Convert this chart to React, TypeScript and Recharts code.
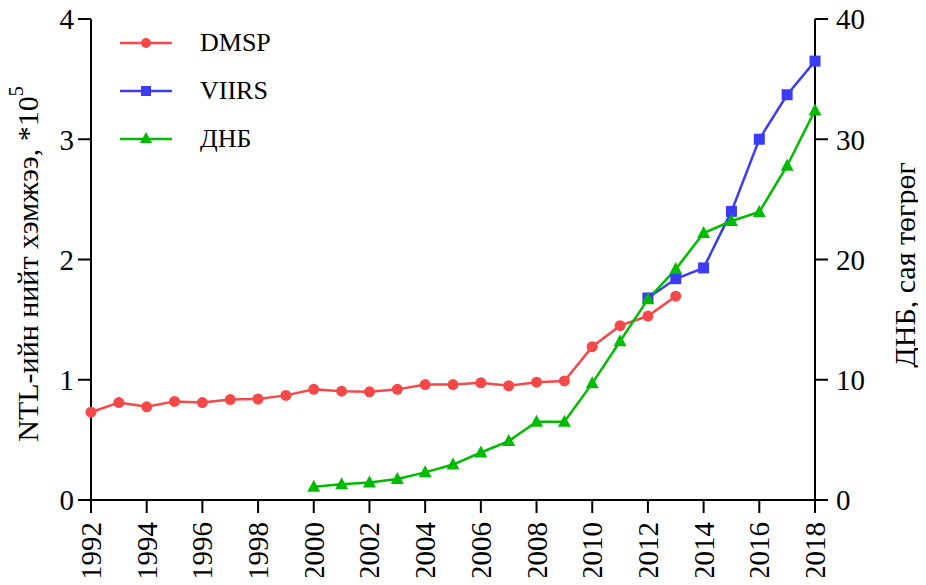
import { LineChart, Line, XAxis, YAxis } from "recharts";

const dmspYears = [1992, 1993, 1994, 1995, 1996, 1997, 1998, 1999, 2000, 2001, 2002, 2003, 2004, 2005, 2006, 2007, 2008, 2009, 2010, 2011, 2012, 2013];
const dmspValues = [0.73, 0.81, 0.775, 0.82, 0.81, 0.835, 0.84, 0.87, 0.92, 0.905, 0.9, 0.92, 0.96, 0.96, 0.975, 0.95, 0.98, 0.99, 1.275, 1.45, 1.53, 1.695];

const viirsYears = [2012, 2013, 2014, 2015, 2016, 2017, 2018];
const viirsValues = [1.68, 1.84, 1.93, 2.4, 3.0, 3.37, 3.65];

const gdpYears = [2000, 2001, 2002, 2003, 2004, 2005, 2006, 2007, 2008, 2009, 2010, 2011, 2012, 2013, 2014, 2015, 2016, 2017, 2018];
const gdpValues = [1.1, 1.3, 1.45, 1.75, 2.3, 2.95, 3.95, 4.9, 6.5, 6.5, 9.7, 13.2, 16.7, 19.2, 22.2, 23.2, 23.95, 27.8, 32.4];

const yearTicks = [1992, 1994, 1996, 1998, 2000, 2002, 2004, 2006, 2008, 2010, 2012, 2014, 2016, 2018];
const leftTicks = [0, 1, 2, 3, 4];
const rightTicks = [0, 10, 20, 30, 40];

const RED = "#f54848";
const BLUE = "#3c3cf4";
const GREEN = "#00bb00";
const FONT = "'Liberation Serif', 'Times New Roman', serif";

const dmspData = dmspYears.map((year, i) => ({ year, v: dmspValues[i] }));
const viirsData = viirsYears.map((year, i) => ({ year, v: viirsValues[i] }));
const gdpData = gdpYears.map((year, i) => ({ year, v: gdpValues[i] }));

const circleDot = (p: any) => {
    if (p.cx == null || p.cy == null) return <g key={p.index} />;
    return <circle key={p.index} cx={p.cx} cy={p.cy} r={5.5} fill={RED} />;
};
const squareDot = (p: any) => {
    if (p.cx == null || p.cy == null) return <g key={p.index} />;
    return <rect key={p.index} x={p.cx - 5.5} y={p.cy - 5.5} width={11} height={11} fill={BLUE} />;
};
const triangleDot = (p: any) => {
    if (p.cx == null || p.cy == null) return <g key={p.index} />;
    const { cx, cy } = p;
    return <polygon key={p.index} points={`${cx},${cy - 7} ${cx - 6.5},${cy + 5} ${cx + 6.5},${cy + 5}`} fill={GREEN} />;
};

const legendItems = [
    { name: "DMSP", color: RED, shape: "circle" },
    { name: "VIIRS", color: BLUE, shape: "square" },
    { name: "ДНБ", color: GREEN, shape: "triangle" },
];

function ChartLegend() {
    return (
        <div style={{ position: "absolute", left: 120, top: 19, fontFamily: FONT }}>
            {legendItems.map((it) => (
                <div key={it.name} style={{ display: "flex", alignItems: "center", height: 48 }}>
                    <svg width={52} height={20}>
                        <line x1={0} y1={10} x2={52} y2={10} stroke={it.color} strokeWidth={2.5} />
                        {it.shape === "circle" && <circle cx={26} cy={10} r={5} fill={it.color} />}
                        {it.shape === "square" && <rect x={21} y={5} width={10} height={10} fill={it.color} />}
                        {it.shape === "triangle" && <polygon points="26,3 20,14 32,14" fill={it.color} />}
                    </svg>
                    <span style={{ marginLeft: 28, fontSize: 26, color: "#000" }}>{it.name}</span>
                </div>
            ))}
        </div>
    );
}

const leftLabel = () => (
    <text x={27} y={264} transform="rotate(-90, 27, 264)" textAnchor="middle" dominantBaseline="central"
        fontFamily={FONT} fontSize={30} fill="#000">
        NTL-ийн нийт хэмжээ, *10<tspan dy={-11} fontSize={20}>5</tspan>
    </text>
);

const rightLabel = () => (
    <text x={904} y={265} transform="rotate(-90, 904, 265)" textAnchor="middle" dominantBaseline="central"
        fontFamily={FONT} fontSize={30} fill="#000">
        ДНБ, сая төгрөг
    </text>
);

const YearTick = (p: any) => {
    const { x, y, payload } = p;
    return (
        <text x={x} y={y} transform={`rotate(-90, ${x}, ${y})`} textAnchor="end" dominantBaseline="central"
            dx={-4} fontFamily={FONT} fontSize={29} fill="#000">
            {payload.value}
        </text>
    );
};

const tickStyle = { fontFamily: FONT, fontSize: 29, fill: "#000" };
const axisLine = { stroke: "#000", strokeWidth: 2 };
const tickLine = { stroke: "#000", strokeWidth: 2 };

export default function App() {
    return (
        <div style={{ position: "relative", width: 926, height: 585, margin: -8 }}>
            <LineChart width={926} height={585} margin={{ top: 19, right: 0, bottom: 0, left: 0 }}>
                <XAxis
                    dataKey="year"
                    type="number"
                    domain={[1992, 2018]}
                    ticks={yearTicks}
                    allowDuplicatedCategory={false}
                    height={85}
                    tick={<YearTick />}
                    tickSize={13}
                    tickMargin={5}
                    axisLine={axisLine}
                    tickLine={tickLine}
                />
                <YAxis
                    yAxisId="l"
                    domain={[0, 4]}
                    ticks={leftTicks}
                    width={91}
                    tick={tickStyle}
                    tickSize={13}
                    tickMargin={4}
                    axisLine={axisLine}
                    tickLine={tickLine}
                    label={leftLabel}
                />
                <YAxis
                    yAxisId="r"
                    orientation="right"
                    domain={[0, 40]}
                    ticks={rightTicks}
                    width={111}
                    tick={tickStyle}
                    tickSize={13}
                    tickMargin={8}
                    axisLine={axisLine}
                    tickLine={tickLine}
                    label={rightLabel}
                />
                <Line yAxisId="l" data={dmspData} dataKey="v" name="DMSP" stroke={RED} strokeWidth={2.5}
                    dot={circleDot} activeDot={false} isAnimationActive={false} />
                <Line yAxisId="l" data={viirsData} dataKey="v" name="VIIRS" stroke={BLUE} strokeWidth={2.5}
                    dot={squareDot} activeDot={false} isAnimationActive={false} />
                <Line yAxisId="r" data={gdpData} dataKey="v" name="ДНБ" stroke={GREEN} strokeWidth={2.5}
                    dot={triangleDot} activeDot={false} isAnimationActive={false} />
            </LineChart>
            <ChartLegend />
        </div>
    );
}
